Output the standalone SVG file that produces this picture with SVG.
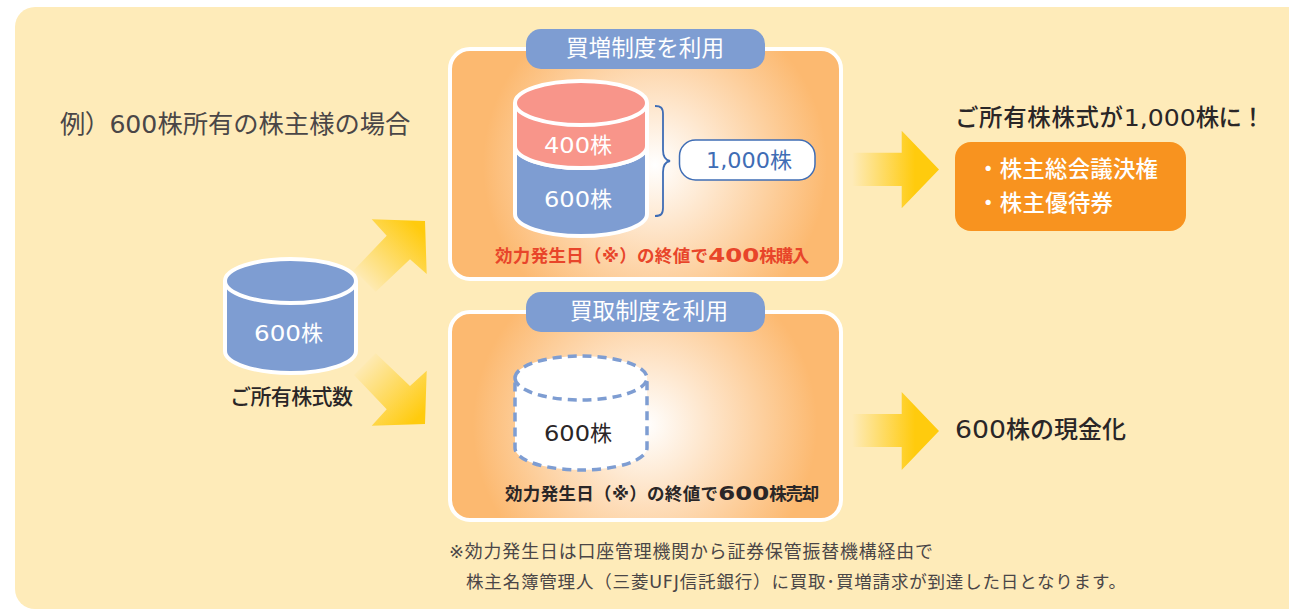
<svg xmlns="http://www.w3.org/2000/svg" width="1289" height="609" viewBox="0 0 1289 609">
<style>
text{font-family:"DejaVu Sans","Noto Sans CJK JP",sans-serif;fill:#2a2627;white-space:pre}
.w{fill:#fff}
.g{fill:#4a4647}
.panel{stroke:#fff;stroke-width:4}
.tab{fill:#7e9dd2}
.cyl{stroke:#fff;stroke-width:4}
.blue{fill:#7e9dd2}
.salmon{fill:#f8958a}
.dash{fill:#fff;stroke:#7e9dd2;stroke-width:3.5;stroke-dasharray:9 6}
.b{font-weight:700}
.m{font-weight:500}
</style>
<defs>
<radialGradient id="p1" gradientUnits="userSpaceOnUse" cx="655" cy="165" r="172"><stop offset="0" stop-color="#fff"/><stop offset="1" stop-color="#fcb970"/></radialGradient>
<radialGradient id="p2" gradientUnits="userSpaceOnUse" cx="645" cy="425" r="172"><stop offset="0" stop-color="#fff"/><stop offset="1" stop-color="#fcb970"/></radialGradient>
<linearGradient id="au" gradientUnits="userSpaceOnUse" x1="362" y1="283" x2="418" y2="227"><stop offset="0" stop-color="#ffcb0d" stop-opacity="0"/><stop offset="1" stop-color="#ffcb0d"/></linearGradient>
<linearGradient id="ad" gradientUnits="userSpaceOnUse" x1="362" y1="362" x2="418" y2="418"><stop offset="0" stop-color="#ffcb0d" stop-opacity="0"/><stop offset="1" stop-color="#ffcb0d"/></linearGradient>
<linearGradient id="ar" gradientUnits="userSpaceOnUse" x1="852" y1="0" x2="915" y2="0"><stop offset="0" stop-color="#ffcb0d" stop-opacity="0"/><stop offset="1" stop-color="#ffcb0d"/></linearGradient>
</defs>
<rect width="1289" height="609" fill="#fff"/>
<rect id="background" x="15" y="7" width="1300" height="602" rx="20" fill="#feebb9"/>

<text id="title" class="g" x="60" y="133" font-size="25.300"><tspan textLength="50">例）</tspan><tspan textLength="48" lengthAdjust="spacingAndGlyphs">600</tspan>株所有の株主様の場合</text>

<g id="connectors">
<polygon fill="url(#au)" points="371.7,219.3 425,221 426.7,274 410,259.3 375.7,291.7 354,270 386.7,235.7"/>
<polygon fill="url(#ad)" points="371.7,425.7 425,424 426.7,370.7 410,386 375.7,353.3 354,375 386.7,409.3"/>
<polygon fill="url(#ar)" points="850,152.7 901.7,152.7 901.7,130.7 939,169.5 901.7,208.3 901.7,186 850,186"/>
<polygon fill="url(#ar)" points="850,414 901.7,414 901.7,392 939,431 901.7,470 901.7,447 850,447"/>
</g>

<g id="node-owned">
<path class="cyl blue" d="M225 281A65.5 22 0 0 1 356 281V351A65.5 22 0 0 1 225 351Z"/>
<path fill="none" stroke="#fff" stroke-width="4" d="M225 281A65.5 22 0 0 0 356 281"/>
<text class="w" x="254" y="341" font-size="22"><tspan textLength="47" lengthAdjust="spacingAndGlyphs">600</tspan>株</text>
<text class="m" x="230" y="404" font-size="21" textLength="123">ご所有株式数</text>
</g>

<g id="node-buy">
<rect class="panel" x="450" y="49" width="391" height="230" rx="20" fill="url(#p1)"/>
<rect class="tab" x="526" y="29" width="239" height="40" rx="15"/>
<text class="w" x="566" y="56" font-size="22.600" textLength="158">買増制度を利用</text>
<path class="cyl blue" d="M515 146V214A66 22 0 0 0 647 214V146A66 22 0 0 1 515 146Z"/>
<path class="cyl salmon" d="M515 103A66 22 0 0 1 647 103V146A66 22 0 0 1 515 146Z"/>
<path fill="none" stroke="#fff" stroke-width="4" d="M515 103A66 22 0 0 0 647 103"/>
<text class="w" x="544" y="153" font-size="22"><tspan textLength="46" lengthAdjust="spacingAndGlyphs">400</tspan>株</text>
<text class="w" x="544" y="207" font-size="22"><tspan textLength="46" lengthAdjust="spacingAndGlyphs">600</tspan>株</text>
<path fill="none" stroke="#3f6db5" stroke-width="1.800" d="M655 106C661 106 663 108 663 114V150C663 157 665 160 670 161C665 162 663 165 663 172V208C663 214 661 216 655 216"/>
<rect x="679.500" y="140" width="135.500" height="40" rx="16" fill="#fff" stroke="#3f6db5" stroke-width="1.500"/>
<text x="706" y="168" font-size="22" style="fill:#3f6db5"><tspan textLength="64" lengthAdjust="spacingAndGlyphs">1,000</tspan>株</text>
<text class="b" x="495" y="262" font-size="17.500" style="fill:#e8452a"><tspan textLength="213">効力発生日（※）の終値で</tspan><tspan textLength="51" lengthAdjust="spacingAndGlyphs" font-size="19">400</tspan><tspan textLength="50">株購入</tspan></text>
</g>

<g id="node-sell">
<rect class="panel" x="450" y="312" width="391" height="208" rx="20" fill="url(#p2)"/>
<rect class="tab" x="526" y="292" width="239" height="40" rx="15"/>
<text class="w" x="570" y="319" font-size="22.600" textLength="158">買取制度を利用</text>
<path class="dash" d="M515 378A66 22 0 0 1 647 378V448A66 22 0 0 1 515 448Z"/>
<path fill="none" stroke="#7e9dd2" stroke-width="3.500" stroke-dasharray="9 6" d="M515 378A66 22 0 0 0 647 378"/>
<text x="544" y="441" font-size="22"><tspan textLength="46" lengthAdjust="spacingAndGlyphs">600</tspan>株</text>
<text class="b" x="505" y="500" font-size="17.500"><tspan textLength="213">効力発生日（※）の終値で</tspan><tspan textLength="51" lengthAdjust="spacingAndGlyphs" font-size="19">600</tspan><tspan textLength="50">株売却</tspan></text>
</g>

<g id="node-result-buy">
<text class="m" x="955" y="126" font-size="23.400"><tspan textLength="168">ご所有株株式が</tspan><tspan textLength="72" lengthAdjust="spacingAndGlyphs">1,000</tspan><tspan textLength="69">株に！</tspan></text>
<rect x="955" y="142" width="231" height="89" rx="16" fill="#f8931f"/>
<text class="w m" x="977" y="177" font-size="22.400" textLength="181">・株主総会議決権</text>
<text class="w m" x="977" y="211" font-size="22.400" textLength="136">・株主優待券</text>
</g>

<g id="node-result-sell">
<text class="m" x="955" y="438" font-size="24"><tspan textLength="51" lengthAdjust="spacingAndGlyphs">600</tspan>株の現金化</text>
</g>

<g id="note">
<text class="g" x="449" y="558" font-size="17.900" textLength="484">※効力発生日は口座管理機関から証券保管振替機構経由で</text>
<text class="g" x="466" y="588" font-size="17.500" textLength="660">株主名簿管理人（三菱UFJ信託銀行）に買取･買増請求が到達した日となります。</text>
</g>
</svg>
